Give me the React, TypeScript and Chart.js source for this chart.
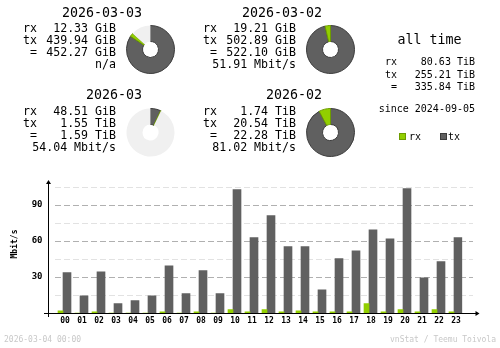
import React, { useEffect, useRef } from "react";
import { Chart, registerables } from "chart.js";

Chart.register(...registerables);

// ---------- data ----------
const hours = ["00","01","02","03","04","05","06","07","08","09","10","11","12","13","14","15","16","17","18","19","20","21","22","23"];
const rxRate = [1.9, 0, 1.0, 0, 0, 0, 1.0, 0, 1.0, 0, 2.8, 0.9, 2.8, 0.9, 1.9, 0.9, 0.9, 0.9, 7.8, 0.9, 2.8, 0.9, 2.8, 0.9];
const txRate = [33.6, 14.4, 34.4, 7.8, 10.3, 14.4, 39.4, 16.1, 35.3, 16.1, 102.8, 62.8, 81.1, 55.3, 55.3, 19.4, 45.3, 51.9, 69.4, 61.9, 103.6, 29.4, 42.8, 62.8];
const yTickValues = [30, 60, 90];
const gridValues = [15, 30, 45, 60, 75, 90, 105];
const majorGrid = [30, 60, 90];
const yMax = 110;
const yUnit = "Mbit/s";

const dayTitles = ["2026-03-03", "2026-03-02"];
const dayRx = [12.33, 19.21];
const dayTx = [439.94, 502.89];
const dayTotal = [452.27, 522.1];
const dayUnit = "GiB";
const dayRate = ["n/a", "51.91 Mbit/s"];

const monthTitles = ["2026-03", "2026-02"];
const monthRx = [48.51, 1.74];
const monthRxUnit = ["GiB", "TiB"];
const monthTx = [1.55, 20.54];
const monthTotal = [1.59, 22.28];
const monthUnit = "TiB";
const monthRate = ["54.04 Mbit/s", "81.02 Mbit/s"];

const allRx = 80.63;
const allTx = 255.21;
const allTotal = 335.84;
const allUnit = "TiB";
const sinceDate = "2024-09-05";
const footerLeft = "2026-03-04 00:00";
const footerRight = "vnStat / Teemu Toivola";

// ---------- style ----------
const RX = "#92cf00";
const RXD = "#6e9c00";
const TX = "#606060";
const TXD = "#3c3c3c";
const REST = "#f0f0f0";
const FONT = '"DejaVu Sans Mono", monospace';

function T({ x, y, s, align = "left", children, color = "#000", bold = false }: any) {
  const style: any = {
    position: "absolute",
    top: y - 0.846 * s,
    fontFamily: FONT,
    fontSize: s,
    lineHeight: `${s}px`,
    whiteSpace: "pre",
    color,
    fontWeight: bold ? "bold" : "normal",
  };
  if (align === "left") style.left = x;
  else if (align === "right") style.right = 500 - x;
  else {
    style.left = x;
    style.transform = "translateX(-50%)";
  }
  return <div style={style}>{children}</div>;
}

function Pie({ cx, cy, values }: { cx: number; cy: number; values: number[] }) {
  const ref = useRef<HTMLCanvasElement>(null);
  useEffect(() => {
    const c = new Chart(ref.current!, {
      type: "doughnut",
      data: {
        labels: ["tx", "rx", "rest"],
        datasets: [
          {
            data: values,
            backgroundColor: [TX, RX, REST],
            borderColor: [TXD, RXD, REST],
            borderWidth: [1, 1, 0],
          },
        ],
      },
      options: {
        responsive: false,
        animation: false,
        cutout: 8,
        events: [],
        plugins: { legend: { display: false }, tooltip: { enabled: false } },
      },
    });
    return () => c.destroy();
  }, []);
  return (
    <canvas
      ref={ref}
      width={49}
      height={49}
      style={{ position: "absolute", left: cx - 24.5, top: cy - 24.5, width: 49, height: 49 }}
    />
  );
}

const axesPlugin = {
  id: "vnaxes",
  beforeDatasetsDraw(chart: any) {
    const { ctx, chartArea: a, scales } = chart;
    const y = scales.y;
    ctx.save();
    ctx.lineWidth = 1;
    ctx.setLineDash([6, 3]);
    for (const v of gridValues) {
      const py = Math.round(y.getPixelForValue(v)) + 0.5;
      ctx.strokeStyle = majorGrid.includes(v) ? "#b0b0b0" : "#e2e2e2";
      ctx.beginPath();
      ctx.moveTo(a.left + 0.5, py);
      ctx.lineTo(a.right + 10.5, py);
      ctx.stroke();
    }
    ctx.restore();
  },
  afterDatasetsDraw(chart: any) {
    const { ctx, chartArea: a } = chart;
    const ax = Math.floor(a.left - 6) + 0.5;
    const by = Math.round(a.bottom) + 0.5;
    ctx.save();
    ctx.strokeStyle = "#000";
    ctx.fillStyle = "#000";
    ctx.lineWidth = 1;
    ctx.beginPath();
    ctx.moveTo(ax, a.top + 1);
    ctx.lineTo(ax, a.bottom + 4);
    ctx.moveTo(a.left - 10.5, by);
    ctx.lineTo(a.right + 14, by);
    ctx.stroke();
    ctx.beginPath();
    ctx.moveTo(ax, a.top - 1);
    ctx.lineTo(ax - 2.5, a.top + 3);
    ctx.lineTo(ax + 2.5, a.top + 3);
    ctx.closePath();
    ctx.fill();
    ctx.beginPath();
    ctx.moveTo(a.right + 17, by);
    ctx.lineTo(a.right + 13, by - 2.5);
    ctx.lineTo(a.right + 13, by + 2.5);
    ctx.closePath();
    ctx.fill();
    ctx.restore();
  },
};

function Bars() {
  const ref = useRef<HTMLCanvasElement>(null);
  useEffect(() => {
    const c = new Chart(ref.current!, {
      type: "bar",
      data: {
        labels: hours,
        datasets: [
          { label: "rx", data: rxRate, backgroundColor: RX, barThickness: 5 } as any,
          { label: "tx", data: txRate, backgroundColor: TX, barThickness: 8 } as any,
        ],
      },
      options: {
        responsive: false,
        animation: false,
        events: [],
        layout: { padding: { top: 181, left: 0, right: 37.5, bottom: 0 } },
        plugins: { legend: { display: false }, tooltip: { enabled: false } },
        scales: {
          x: {
            grid: { display: false, drawTicks: false },
            border: { display: false },
            ticks: {
              autoSkip: false,
              maxRotation: 0,
              font: { family: FONT, size: 8, weight: "bold" },
              color: "#000",
              padding: 3,
              labelOffset: 2,
            },
            afterFit: (s: any) => {
              s.height = 35;
            },
          },
          y: {
            min: 0,
            max: yMax,
            grid: { display: false, drawTicks: false },
            border: { display: false },
            afterBuildTicks: (s: any) => {
              s.ticks = yTickValues.map((v) => ({ value: v }));
            },
            ticks: {
              font: { family: FONT, size: 9, weight: "bold" },
              color: "#000",
              padding: 12,
            },
            afterFit: (s: any) => {
              s.width = 54.5;
            },
          },
        },
      } as any,
      plugins: [axesPlugin],
    });
    return () => c.destroy();
  }, []);
  return (
    <canvas
      ref={ref}
      width={500}
      height={348}
      style={{ position: "absolute", left: 0, top: 0, width: 500, height: 348 }}
    />
  );
}

const fmt = (v: number, u: string) => `${v.toFixed(2)} ${u}`;

export default function App() {
  const dayMax = Math.max(...dayTotal);
  const monthMax = Math.max(...monthTotal);
  const toTiB = (v: number, u: string) => (u === "GiB" ? v / 1024 : v);
  const S = 11.6;
  const L = 13.3;
  const A = 10;
  return (
    <div
      style={{
        position: "absolute",
        left: 0,
        top: 0,
        width: 500,
        height: 348,
        background: "#fff",
        overflow: "hidden",
      }}
    >
      <Bars />
      {[0, 1].map((i) => {
        const dx = i * 180;
        return (
          <React.Fragment key={"d" + i}>
            <T x={142 + dx} y={17} s={L} align="right">{dayTitles[i]}</T>
            <T x={37 + dx} y={33} s={S} align="right">rx</T>
            <T x={37 + dx} y={45} s={S} align="right">tx</T>
            <T x={37 + dx} y={57} s={S} align="right">=</T>
            <T x={116 + dx} y={33} s={S} align="right">{fmt(dayRx[i], dayUnit)}</T>
            <T x={116 + dx} y={45} s={S} align="right">{fmt(dayTx[i], dayUnit)}</T>
            <T x={116 + dx} y={57} s={S} align="right">{fmt(dayTotal[i], dayUnit)}</T>
            <T x={116 + dx} y={69} s={S} align="right">{dayRate[i]}</T>
            <Pie cx={150.5 + dx} cy={49.5} values={[dayTx[i], dayRx[i], dayMax - dayTotal[i]]} />

            <T x={142 + dx} y={99} s={L} align="right">{monthTitles[i]}</T>
            <T x={37 + dx} y={116} s={S} align="right">rx</T>
            <T x={37 + dx} y={128} s={S} align="right">tx</T>
            <T x={37 + dx} y={140} s={S} align="right">=</T>
            <T x={116 + dx} y={116} s={S} align="right">{fmt(monthRx[i], monthRxUnit[i])}</T>
            <T x={116 + dx} y={128} s={S} align="right">{fmt(monthTx[i], monthUnit)}</T>
            <T x={116 + dx} y={140} s={S} align="right">{fmt(monthTotal[i], monthUnit)}</T>
            <T x={116 + dx} y={152} s={S} align="right">{monthRate[i]}</T>
            <Pie
              cx={150.5 + dx}
              cy={132.5}
              values={[
                monthTx[i],
                toTiB(monthRx[i], monthRxUnit[i]),
                Math.max(0, monthMax - monthTotal[i]),
              ]}
            />
          </React.Fragment>
        );
      })}

      <T x={429.5} y={44} s={L} align="center">all time</T>
      <T x={397} y={65} s={A} align="right">rx</T>
      <T x={397} y={78} s={A} align="right">tx</T>
      <T x={397} y={90} s={A} align="right">=</T>
      <T x={475} y={65} s={A} align="right">{fmt(allRx, allUnit)}</T>
      <T x={475} y={78} s={A} align="right">{fmt(allTx, allUnit)}</T>
      <T x={475} y={90} s={A} align="right">{fmt(allTotal, allUnit)}</T>
      <T x={475} y={112} s={A} align="right">{"since " + sinceDate}</T>

      <div style={{ position: "absolute", left: 399, top: 133, width: 5, height: 5, background: RX, border: `1px solid ${RXD}` }} />
      <T x={409} y={140} s={A}>rx</T>
      <div style={{ position: "absolute", left: 440, top: 133, width: 5, height: 5, background: TX, border: `1px solid ${TXD}` }} />
      <T x={448} y={140} s={A}>tx</T>

      <div
        style={{
          position: "absolute",
          left: 14.5,
          top: 243.5,
          transform: "translate(-50%, -50%) rotate(-90deg)",
          fontFamily: FONT,
          fontSize: 8,
          fontWeight: "bold",
          lineHeight: "8px",
          whiteSpace: "pre",
          color: "#000",
        }}
      >
        {yUnit}
      </div>

      <T x={4} y={343} s={8} color="#c8c8c8">{footerLeft}</T>
      <T x={496} y={343} s={8} align="right" color="#c8c8c8">{footerRight}</T>
    </div>
  );
}
